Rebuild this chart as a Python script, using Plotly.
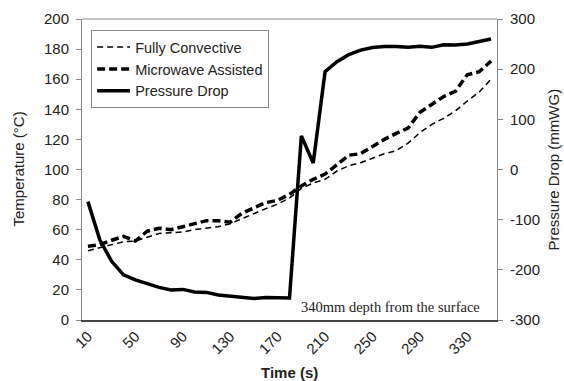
import plotly.graph_objects as go

time_s = list(range(10, 360, 10))
fully_convective = [46, 48, 50, 52, 52.5, 55, 57.5, 58, 58.5, 60, 61, 62, 64, 67.5, 70.5, 74, 77, 81,
                    87.5, 91, 93.5, 99, 102.5, 104.5, 107.5, 110.5, 112.5, 117.5, 124.5, 130, 134, 139,
                    145.5, 151.5, 160]
microwave_assisted = [49, 50, 53, 55.5, 52.5, 59, 61, 60, 62, 64, 66, 66, 65, 71, 74.5, 78, 79.5, 83.5,
                      89, 93.5, 97, 103, 109.5, 110.5, 115.5, 120, 124, 127.5, 138, 143, 148.5, 152,
                      163, 165, 172]
pressure_drop = [-64, -140, -183, -210, -220, -228, -235, -240, -239, -244, -245, -250, -252, -253.5,
                 -257, -255, -256, -256, 67, 13, 195, 215, 229, 238, 243, 245, 245, 243.5, 245.5,
                 243.5, 248.5, 248, 250, 255, 260]
x_ticks = [10, 50, 90, 130, 170, 210, 250, 290, 330]
y2_ticks = [-300, -200, -100, 0, 100, 200, 300]

FONT = "Liberation Sans, Arial, sans-serif"
W, H = 564, 381
L, R, T, B = 82, 67, 19, 61
PW, PH = W - L - R, H - T - B

fig = go.Figure()
fig.add_trace(go.Scatter(x=time_s, y=fully_convective, name="Fully Convective", mode="lines",
                         line=dict(color="black", width=1.5, dash="6px,4px")))
fig.add_trace(go.Scatter(x=time_s, y=microwave_assisted, name="Microwave Assisted", mode="lines",
                         line=dict(color="black", width=3.5, dash="8px,4px")))
fig.add_trace(go.Scatter(x=time_s, y=pressure_drop, name="Pressure Drop", mode="lines", yaxis="y2",
                         line=dict(color="black", width=3.5)))

fig.update_layout(
    width=W, height=H,
    margin=dict(l=L, r=R, t=T, b=B, autoexpand=False),
    paper_bgcolor="white", plot_bgcolor="white",
    font=dict(family=FONT, size=15, color="#222"),
    showlegend=True,
    legend=dict(x=0.022, y=0.963, xanchor="left", yanchor="top", bordercolor="#888", borderwidth=1,
                bgcolor="white", font=dict(size=14.5, color="#222"), itemwidth=33, tracegroupgap=0),
    xaxis=dict(range=[5, 355], tickmode="array", tickvals=x_ticks, ticktext=[str(v) for v in x_ticks],
               tickangle=-45, showgrid=False, zeroline=False, showline=True, linecolor="#444", linewidth=1.5,
               ticks="", automargin=False),
    yaxis=dict(range=[0, 200], dtick=20, showgrid=False, zeroline=False, showline=True, linecolor="#888",
               linewidth=1, ticks="outside", ticklen=5, tickcolor="#888", automargin=False,
               ticklabelstandoff=4),
    yaxis2=dict(range=[-300, 300], tickmode="array", tickvals=y2_ticks, ticktext=[str(v) for v in y2_ticks],
                overlaying="y", side="right", showgrid=False, zeroline=False,
                showline=True, linecolor="#888", linewidth=1, ticks="outside", ticklen=5, tickcolor="#888",
                automargin=False, ticklabelstandoff=4),
)
fig.add_shape(type="line", xref="paper", yref="paper", x0=0, x1=1, y0=1, y1=1,
              line=dict(color="#888", width=1))
# axis titles
fig.add_annotation(text="Temperature (°C)", xref="paper", yref="paper", x=(18 - L) / PW, y=0.5,
                   xanchor="center", yanchor="middle",
                   textangle=-90, showarrow=False, font=dict(size=15, color="#222"))
fig.add_annotation(text="Pressure Drop (mmWG)", xref="paper", yref="paper", x=(553 - L) / PW, y=0.5,
                   xanchor="center", yanchor="middle",
                   textangle=-90, showarrow=False, font=dict(size=15, color="#222"))
fig.add_annotation(text="<b>Time (s)</b>", xref="paper", yref="paper", x=0.5, y=-(372 - (T + PH)) / PH,
                   xanchor="center", yanchor="middle",
                   showarrow=False, font=dict(size=15, color="#222"))
fig.add_annotation(text="340mm depth from the surface", xref="paper", yref="paper", x=(482 - L) / PW,
                   y=0.01, xanchor="right", yanchor="bottom", showarrow=False,
                   font=dict(family="Liberation Serif, Times New Roman, serif", size=14.5, color="#222"))
fig.write_html("out.html")
